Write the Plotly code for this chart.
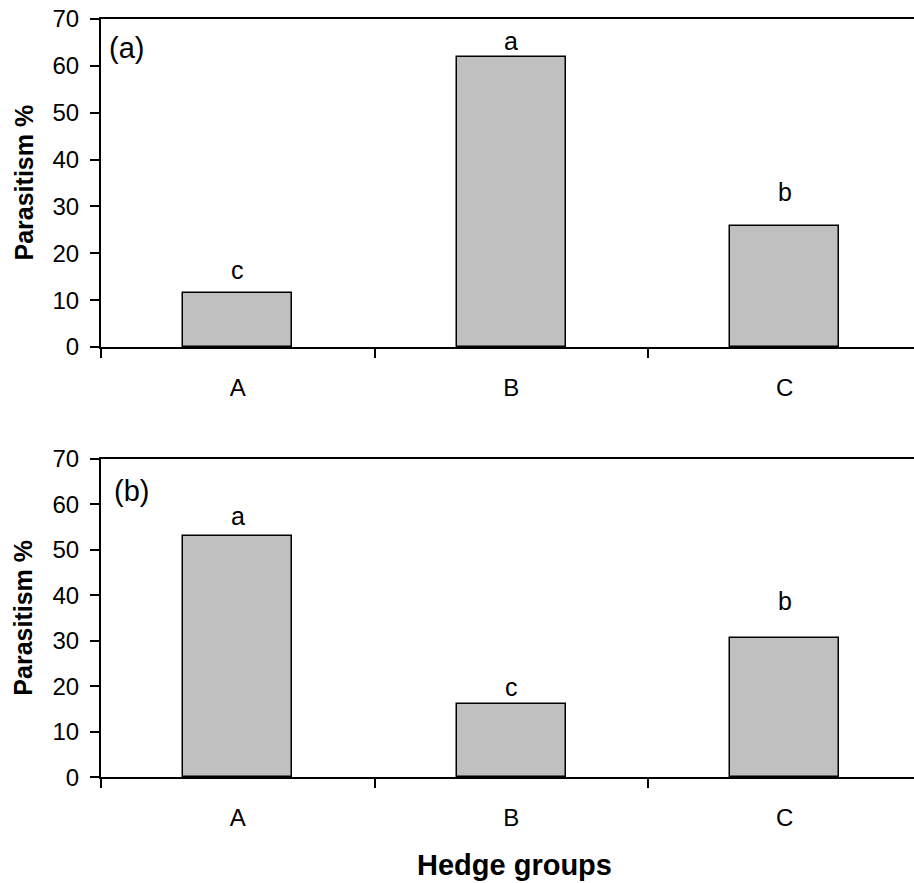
import plotly.graph_objects as go
from plotly.subplots import make_subplots

categories = ["A", "B", "C"]
panel_a_values = [11.5, 61.8, 25.9]
panel_b_values = [53.1, 16.1, 30.7]
panel_a_letters = ["c", "a", "b"]
panel_b_letters = ["a", "c", "b"]
panel_a_letter_y = [16.4, 65.2, 33.0]
panel_b_letter_y = [57.4, 19.9, 38.7]
panel_labels = ["(a)", "(b)"]
y_ticks = [0, 10, 20, 30, 40, 50, 60, 70]

W, H = 914, 883
L = 101
PW = W - L
FONT = "Liberation Sans, Arial, sans-serif"

fig = make_subplots(rows=2, cols=1)

for row, vals in ((1, panel_a_values), (2, panel_b_values)):
    fig.add_trace(go.Bar(x=categories, y=vals, width=0.4,
                         marker=dict(color="#c0c0c0", line=dict(color="black", width=1.5)),
                         showlegend=False, hoverinfo="skip"), row=row, col=1)

top_dom = [1 - 347 / H, 1 - 19 / H]
bot_dom = [1 - 777.3 / H, 1 - 459 / H]
xr = [-0.5, -0.5 + PW / 273.5]

axis_common = dict(showline=True, linecolor="black", linewidth=2, ticks="outside",
                   tickcolor="black", tickwidth=1.5, showgrid=False, zeroline=False,
                   automargin=False, ticklen=9,
                   tickfont=dict(family=FONT, size=24, color="black"))

fig.update_xaxes(**axis_common, tickson="boundaries", range=xr, mirror=True,
                 type="category", domain=[0, 1], ticklabelstandoff=18)
fig.update_yaxes(**axis_common, range=[0, 70], tickvals=y_ticks, ticklabelstandoff=6)
fig.update_yaxes(domain=top_dom, row=1, col=1)
fig.update_yaxes(domain=bot_dom, row=2, col=1)

annotations = []
for xref, yref, letters, ys, label, lx, ly in (
        ("x", "y", panel_a_letters, panel_a_letter_y, panel_labels[0], 0.007, 0.912),
        ("x2", "y2", panel_b_letters, panel_b_letter_y, panel_labels[1], 0.013, 0.8995)):
    for c, l, yv in zip(categories, letters, ys):
        annotations.append(dict(x=c, y=yv, xref=xref, yref=yref, text=l, showarrow=False,
                                xanchor="center", yanchor="middle",
                                font=dict(family=FONT, size=25, color="black")))
    annotations.append(dict(x=lx, y=ly, xref=xref + " domain", yref=yref + " domain",
                            text=label, showarrow=False, xanchor="left", yanchor="middle",
                            font=dict(family=FONT, size=29, color="black")))

for dom in (top_dom, bot_dom):
    annotations.append(dict(x=(23.5 - L) / PW, y=(dom[0] + dom[1]) / 2, xref="paper", yref="paper",
                            text="<b>Parasitism %</b>", textangle=-90, showarrow=False,
                            xanchor="center", yanchor="middle",
                            font=dict(family=FONT, size=25, color="black")))

annotations.append(dict(x=(514.7 - L) / PW, y=1 - 865 / H, xref="paper", yref="paper",
                        text="<b>Hedge groups</b>", showarrow=False,
                        xanchor="center", yanchor="middle",
                        font=dict(family=FONT, size=29, color="black")))

fig.update_layout(template="none", width=W, height=H, margin=dict(l=L, r=0, t=0, b=0, pad=0),
                  plot_bgcolor="white", paper_bgcolor="white", bargap=0,
                  annotations=annotations)

fig.write_html("out.html")
